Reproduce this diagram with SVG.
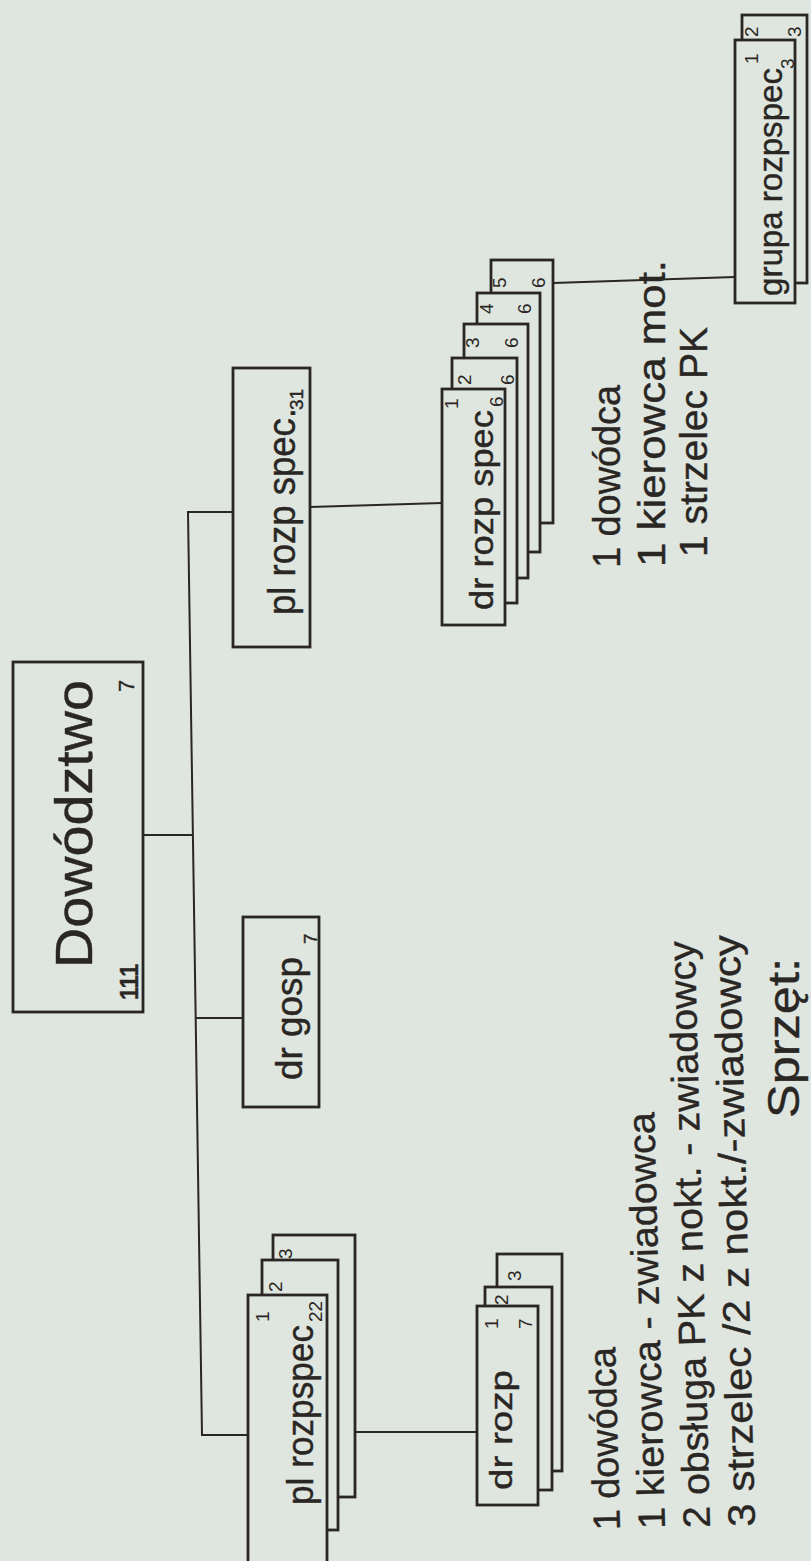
<svg xmlns="http://www.w3.org/2000/svg" width="811" height="1561" viewBox="0 0 811 1561">
  <style>
    .bg { fill: #dfe6df; }
    .box { fill: #dfe6df; stroke: #2a2624; stroke-width: 2.8; }
    .wire { fill: none; stroke: #2a2624; stroke-width: 2; stroke-linejoin: miter; }
    .t { font-family: "Liberation Sans", Arial, sans-serif; fill: #2a2624; stroke: #2a2624; stroke-width: 0.4; }
    .n { font-family: "Liberation Sans", Arial, sans-serif; fill: #2a2624; font-size: 19px; }
  </style>

  <rect class="bg" x="0" y="0" width="811" height="1561"/>

  <!-- connectors -->
  <g id="connectors">
    <polyline class="wire" points="233,512 188,512 202,1435 248,1435"/>
    <line class="wire" x1="143" y1="835" x2="193" y2="835"/>
    <line class="wire" x1="196" y1="1018" x2="243" y2="1018"/>
    <line class="wire" x1="310" y1="507" x2="442" y2="503"/>
    <line class="wire" x1="553" y1="283" x2="735" y2="277"/>
    <line class="wire" x1="355" y1="1432" x2="477" y2="1432"/>
  </g>

  <!-- headquarters -->
  <g id="dowodztwo">
    <rect class="box" x="13" y="662" width="130" height="350"/>
    <text class="t" font-size="52" textLength="288" lengthAdjust="spacingAndGlyphs" transform="translate(92 968) rotate(-90)">Dowództwo</text>
    <text class="t" font-size="26" font-weight="bold" textLength="36" lengthAdjust="spacingAndGlyphs" transform="translate(138 1000) rotate(-90)">111</text>
    <text class="t" font-size="22" transform="translate(134 692) rotate(-90)">7</text>
  </g>

  <!-- supply section -->
  <g id="dr-gosp">
    <rect class="box" x="243" y="917" width="76" height="190"/>
    <text class="t" font-size="36" textLength="123" lengthAdjust="spacingAndGlyphs" transform="translate(302 1080) rotate(-90)">dr gosp</text>
    <text class="t" font-size="19" transform="translate(317 944) rotate(-90)">7</text>
  </g>

  <!-- special platoon -->
  <g id="pl-rozp-spec">
    <rect class="box" x="233" y="368" width="77" height="279"/>
    <text class="t" font-size="38" textLength="207" lengthAdjust="spacingAndGlyphs" transform="translate(295 615) rotate(-90)">pl rozp spec.</text>
    <text class="t" font-size="19" transform="translate(303 410) rotate(-90)">31</text>
  </g>

  <!-- special sections, five of them -->
  <g id="dr-rozp-spec">
    <rect class="box" x="491" y="260" width="62" height="263"/>
    <text class="n" transform="translate(506 288) rotate(-90)">5</text>
    <text class="n" transform="translate(545 288) rotate(-90)">6</text>
    <rect class="box" x="477" y="293" width="63" height="259"/>
    <text class="n" transform="translate(493 314) rotate(-90)">4</text>
    <text class="n" transform="translate(531 314) rotate(-90)">6</text>
    <rect class="box" x="464" y="324" width="64" height="254"/>
    <text class="n" transform="translate(479 348) rotate(-90)">3</text>
    <text class="n" transform="translate(518 348) rotate(-90)">6</text>
    <rect class="box" x="452" y="358" width="65" height="245"/>
    <text class="n" transform="translate(471 385) rotate(-90)">2</text>
    <text class="n" transform="translate(514 385) rotate(-90)">6</text>
    <rect class="box" x="442" y="389" width="63" height="236"/>
    <text class="t" font-size="34" textLength="200" lengthAdjust="spacingAndGlyphs" transform="translate(493 610) rotate(-90)">dr rozp spec</text>
    <text class="n" transform="translate(458 409) rotate(-90)">1</text>
    <text class="n" transform="translate(503 407) rotate(-90)">6</text>
  </g>

  <!-- special group -->
  <g id="grupa-rozpspec">
    <rect class="box" x="742" y="15" width="65" height="268"/>
    <text class="n" transform="translate(758 37) rotate(-90)">2</text>
    <text class="n" transform="translate(801 37) rotate(-90)">3</text>
    <rect class="box" x="735" y="40" width="60" height="263"/>
    <text class="t" font-size="34" textLength="228" lengthAdjust="spacingAndGlyphs" transform="translate(782 296) rotate(-90)">grupa rozpspec</text>
    <text class="n" transform="translate(758 64) rotate(-90)">1</text>
    <text class="n" transform="translate(794 69) rotate(-90)">3</text>
  </g>

  <!-- reconnaissance platoons, three of them -->
  <g id="pl-rozpspec">
    <rect class="box" x="273" y="1235" width="82" height="262"/>
    <text class="n" transform="translate(292 1259) rotate(-90)">3</text>
    <rect class="box" x="262" y="1260" width="76" height="270"/>
    <text class="n" transform="translate(282 1292) rotate(-90)">2</text>
    <rect class="box" x="248" y="1295" width="79" height="275"/>
    <text class="t" font-size="36" textLength="180" lengthAdjust="spacingAndGlyphs" transform="translate(313 1505) rotate(-90)">pl rozpspec</text>
    <text class="n" transform="translate(269 1322) rotate(-90)">1</text>
    <text class="n" transform="translate(322 1322) rotate(-90)">22</text>
  </g>

  <!-- reconnaissance sections, three of them -->
  <g id="dr-rozp">
    <rect class="box" x="497" y="1254" width="65" height="217"/>
    <text class="n" transform="translate(521 1281) rotate(-90)">3</text>
    <rect class="box" x="485" y="1287" width="67" height="203"/>
    <text class="n" transform="translate(508 1305) rotate(-90)">2</text>
    <rect class="box" x="477" y="1306" width="61" height="199"/>
    <text class="t" font-size="32" textLength="120" lengthAdjust="spacingAndGlyphs" transform="translate(512 1490) rotate(-90)">dr rozp</text>
    <text class="n" transform="translate(498 1329) rotate(-90)">1</text>
    <text class="n" transform="translate(532 1329) rotate(-90)">7</text>
  </g>

  <!-- crew of a reconnaissance section -->
  <g id="sklad-dr-rozp" transform="translate(0 1530) rotate(-1.5 620 0) translate(0 -1530)">
    <text class="t" font-size="38" textLength="183" lengthAdjust="spacingAndGlyphs" transform="translate(620 1530) rotate(-90)">1 dowódca</text>
    <text class="t" font-size="38" textLength="417" lengthAdjust="spacingAndGlyphs" transform="translate(665 1530) rotate(-90)">1 kierowca - zwiadowca</text>
    <text class="t" font-size="38" textLength="587" lengthAdjust="spacingAndGlyphs" transform="translate(710 1530) rotate(-90)">2 obsługa PK z nokt. - zwiadowcy</text>
    <text class="t" font-size="38" textLength="592" lengthAdjust="spacingAndGlyphs" transform="translate(755 1530) rotate(-90)">3 strzelec /2 z nokt./-zwiadowcy</text>
  </g>

  <!-- crew of a special section -->
  <g id="sklad-dr-rozp-spec">
    <text class="t" font-size="38" textLength="183" lengthAdjust="spacingAndGlyphs" transform="translate(620 568) rotate(-90)">1 dowódca</text>
    <text class="t" font-size="38" textLength="307" lengthAdjust="spacingAndGlyphs" transform="translate(665 567) rotate(-90)">1 kierowca mot.</text>
    <text class="t" font-size="38" textLength="230" lengthAdjust="spacingAndGlyphs" transform="translate(707 557) rotate(-90)">1 strzelec PK</text>
  </g>

  <!-- equipment heading -->
  <g id="sprzet">
    <text class="t" font-size="44" textLength="160" lengthAdjust="spacingAndGlyphs" transform="translate(799 1118) rotate(-90)">Sprzęt:</text>
  </g>
</svg>
